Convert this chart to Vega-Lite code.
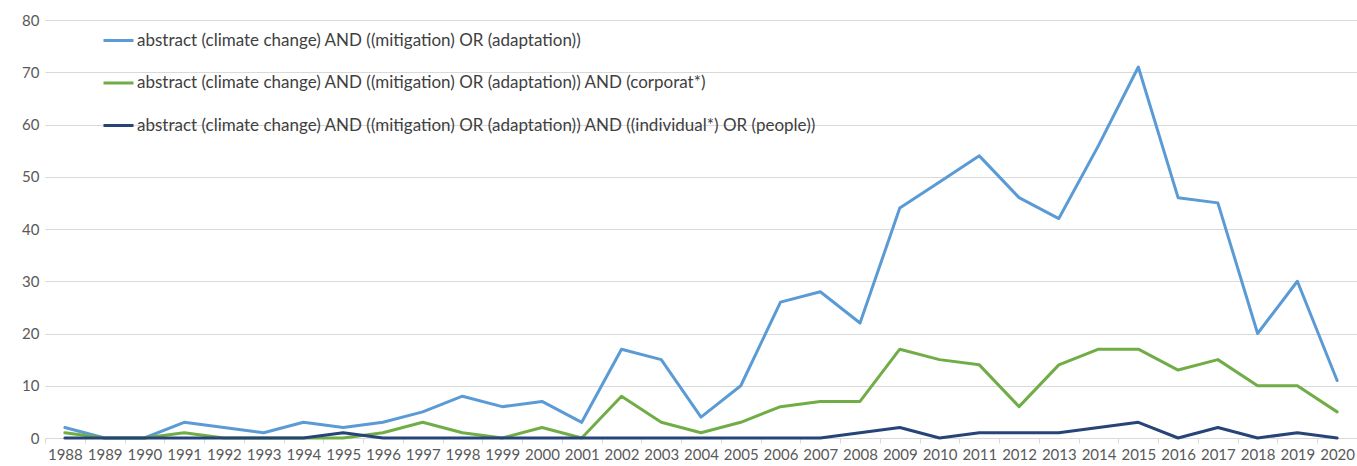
{
  "$schema": "https://vega.github.io/schema/vega-lite/v6.json",
  "width": 1312,
  "height": 418,
  "autosize": {"type": "none"},
  "padding": {"left": 45, "top": 20, "right": 0, "bottom": 28},
  "background": "white",
  "config": {
    "view": {"stroke": null},
    "font": "Lato"
  },
  "data": {
    "values": [
      {"year": "1988", "s": "A", "v": 2}, {"year": "1989", "s": "A", "v": 0}, {"year": "1990", "s": "A", "v": 0},
      {"year": "1991", "s": "A", "v": 3}, {"year": "1992", "s": "A", "v": 2}, {"year": "1993", "s": "A", "v": 1},
      {"year": "1994", "s": "A", "v": 3}, {"year": "1995", "s": "A", "v": 2}, {"year": "1996", "s": "A", "v": 3},
      {"year": "1997", "s": "A", "v": 5}, {"year": "1998", "s": "A", "v": 8}, {"year": "1999", "s": "A", "v": 6},
      {"year": "2000", "s": "A", "v": 7}, {"year": "2001", "s": "A", "v": 3}, {"year": "2002", "s": "A", "v": 17},
      {"year": "2003", "s": "A", "v": 15}, {"year": "2004", "s": "A", "v": 4}, {"year": "2005", "s": "A", "v": 10},
      {"year": "2006", "s": "A", "v": 26}, {"year": "2007", "s": "A", "v": 28}, {"year": "2008", "s": "A", "v": 22},
      {"year": "2009", "s": "A", "v": 44}, {"year": "2010", "s": "A", "v": 49}, {"year": "2011", "s": "A", "v": 54},
      {"year": "2012", "s": "A", "v": 46}, {"year": "2013", "s": "A", "v": 42}, {"year": "2014", "s": "A", "v": 56},
      {"year": "2015", "s": "A", "v": 71}, {"year": "2016", "s": "A", "v": 46}, {"year": "2017", "s": "A", "v": 45},
      {"year": "2018", "s": "A", "v": 20}, {"year": "2019", "s": "A", "v": 30}, {"year": "2020", "s": "A", "v": 11},

      {"year": "1988", "s": "B", "v": 1}, {"year": "1989", "s": "B", "v": 0}, {"year": "1990", "s": "B", "v": 0},
      {"year": "1991", "s": "B", "v": 1}, {"year": "1992", "s": "B", "v": 0}, {"year": "1993", "s": "B", "v": 0},
      {"year": "1994", "s": "B", "v": 0}, {"year": "1995", "s": "B", "v": 0}, {"year": "1996", "s": "B", "v": 1},
      {"year": "1997", "s": "B", "v": 3}, {"year": "1998", "s": "B", "v": 1}, {"year": "1999", "s": "B", "v": 0},
      {"year": "2000", "s": "B", "v": 2}, {"year": "2001", "s": "B", "v": 0}, {"year": "2002", "s": "B", "v": 8},
      {"year": "2003", "s": "B", "v": 3}, {"year": "2004", "s": "B", "v": 1}, {"year": "2005", "s": "B", "v": 3},
      {"year": "2006", "s": "B", "v": 6}, {"year": "2007", "s": "B", "v": 7}, {"year": "2008", "s": "B", "v": 7},
      {"year": "2009", "s": "B", "v": 17}, {"year": "2010", "s": "B", "v": 15}, {"year": "2011", "s": "B", "v": 14},
      {"year": "2012", "s": "B", "v": 6}, {"year": "2013", "s": "B", "v": 14}, {"year": "2014", "s": "B", "v": 17},
      {"year": "2015", "s": "B", "v": 17}, {"year": "2016", "s": "B", "v": 13}, {"year": "2017", "s": "B", "v": 15},
      {"year": "2018", "s": "B", "v": 10}, {"year": "2019", "s": "B", "v": 10}, {"year": "2020", "s": "B", "v": 5},

      {"year": "1988", "s": "C", "v": 0}, {"year": "1989", "s": "C", "v": 0}, {"year": "1990", "s": "C", "v": 0},
      {"year": "1991", "s": "C", "v": 0}, {"year": "1992", "s": "C", "v": 0}, {"year": "1993", "s": "C", "v": 0},
      {"year": "1994", "s": "C", "v": 0}, {"year": "1995", "s": "C", "v": 1}, {"year": "1996", "s": "C", "v": 0},
      {"year": "1997", "s": "C", "v": 0}, {"year": "1998", "s": "C", "v": 0}, {"year": "1999", "s": "C", "v": 0},
      {"year": "2000", "s": "C", "v": 0}, {"year": "2001", "s": "C", "v": 0}, {"year": "2002", "s": "C", "v": 0},
      {"year": "2003", "s": "C", "v": 0}, {"year": "2004", "s": "C", "v": 0}, {"year": "2005", "s": "C", "v": 0},
      {"year": "2006", "s": "C", "v": 0}, {"year": "2007", "s": "C", "v": 0}, {"year": "2008", "s": "C", "v": 1},
      {"year": "2009", "s": "C", "v": 2}, {"year": "2010", "s": "C", "v": 0}, {"year": "2011", "s": "C", "v": 1},
      {"year": "2012", "s": "C", "v": 1}, {"year": "2013", "s": "C", "v": 1}, {"year": "2014", "s": "C", "v": 2},
      {"year": "2015", "s": "C", "v": 3}, {"year": "2016", "s": "C", "v": 0}, {"year": "2017", "s": "C", "v": 2},
      {"year": "2018", "s": "C", "v": 0}, {"year": "2019", "s": "C", "v": 1}, {"year": "2020", "s": "C", "v": 0}
    ]
  },
  "transform": [
    {"calculate": "datum.s === 'A' ? 'abstract (climate change) AND ((mitigation) OR (adaptation))' : datum.s === 'B' ? 'abstract (climate change) AND ((mitigation) OR (adaptation)) AND (corporat*)' : 'abstract (climate change) AND ((mitigation) OR (adaptation)) AND ((individual*) OR (people))'", "as": "series"}
  ],
  "mark": {"type": "line", "strokeWidth": 3, "strokeJoin": "round", "strokeCap": "round"},
  "encoding": {
    "x": {
      "field": "year", "type": "ordinal",
      "scale": {"type": "band", "paddingInner": 0, "paddingOuter": 0},
      "bandPosition": 0.5,
      "axis": {
        "title": null, "labelAngle": 0, "tickBand": "extent",
        "tickColor": "#d9d9d9", "tickSize": 5, "labelColor": "#595959", "labelFontSize": 15,
        "labelPadding": 4, "grid": false, "domain": false
      }
    },
    "y": {
      "field": "v", "type": "quantitative",
      "scale": {"domain": [0, 80], "nice": false},
      "axis": {
        "title": null, "values": [0, 10, 20, 30, 40, 50, 60, 70, 80], "domain": false, "ticks": false,
        "gridColor": "#d9d9d9", "gridWidth": 1, "labelColor": "#595959", "labelFontSize": 15, "labelPadding": 6
      }
    },
    "color": {
      "field": "series", "type": "nominal",
      "scale": {
        "domain": [
          "abstract (climate change) AND ((mitigation) OR (adaptation))",
          "abstract (climate change) AND ((mitigation) OR (adaptation)) AND (corporat*)",
          "abstract (climate change) AND ((mitigation) OR (adaptation)) AND ((individual*) OR (people))"
        ],
        "range": ["#5B9BD5", "#70AD47", "#264478"]
      },
      "legend": {
        "title": null, "orient": "none", "legendX": 57, "legendY": 4, "direction": "vertical",
        "symbolType": "stroke", "symbolSize": 900, "symbolStrokeWidth": 3, "labelOffset": 2,
        "labelFontSize": 17, "labelColor": "#404040", "rowPadding": 17.5, "labelLimit": 1000
      }
    }
  }
}
